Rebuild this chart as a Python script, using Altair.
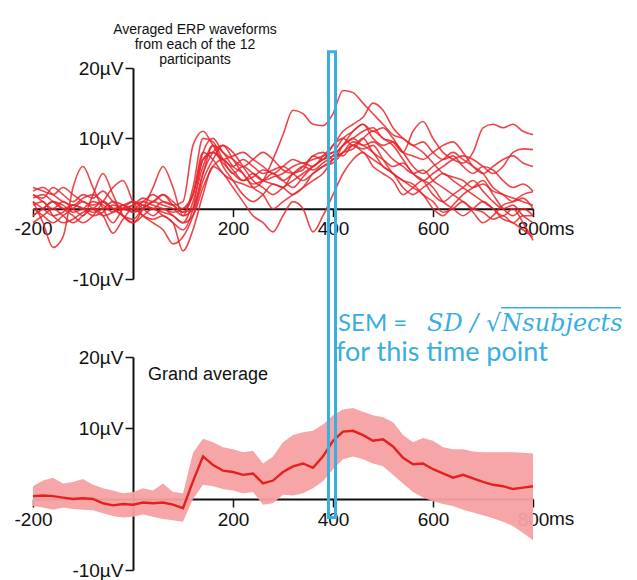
import altair as alt
import pandas as pd

# ---------------- data ----------------
times = list(range(-200, 801, 20))

s1 = [2.5, 3, 2, 1, 0.5, 1.5, 2, 1, 0, 0.5, 1, 0.5, 0, 1, 0.5, -0.5, 2, 8, 7, 5, 4, 3.5, 3, 4, 7, 10.5, 14, 13.5, 12, 11.8, 13.5, 16.8, 16.5, 15, 13.5, 12, 10.5, 10, 9, 9.5, 8, 7, 7.5, 6, 5, 6, 5.5, 4, 3, 3.5, 2.5]
s2 = [1, 0, -1, -0.5, 0.5, 0, -1, -0.5, 0.5, 0, -0.5, 0, 1, 0.5, 0, -1, 3, 10, 9.5, 7, 5, 6, 5, 4, 4.5, 5, 6, 6.5, 6, 7.5, 9, 11, 12, 13, 15, 14, 11.5, 10, 9, 8, 6.5, 5, 4.5, 4, 3, 3.5, 2.5, 2, 1.5, 1, 0.5]
s3 = [-1, 0, 1, 0.5, -0.5, 0, 1, 0.5, -0.5, 0, 0.5, 1, 0.5, 0, -0.5, 0, 2, 7, 8, 6.5, 5, 4, 4.5, 5.5, 5, 4, 5, 6, 5.5, 6.5, 7.5, 9, 10, 11, 11.5, 10, 9.5, 8, 11, 12.4, 10, 8, 7, 6.5, 8, 11.5, 12, 11.5, 12, 11, 10.5]
s4 = [1, -2, -5.5, -4, 3, 6, 3, 0, -2, 0, 1, 0, -1, 0, -1, -2, 1, 6, 9, 6, 4, 2, 1, 2, 3.5, 3, 5, 5.5, 7.5, 7, 9, 10, 9, 10, 8, 7, 6, 6.5, 5, 4, 5, 6, 7, 7.5, 7, 6, 5, 6, 8, 8.5, 8.4]
s5 = [2, 1, 0, 1, 0, -1, 2, 5, 2, -1, -2, 0, 3, 6, 3, -1, 0, 5, 9, 8, 6, 5, 3, 2, 0, 1, 2, 3, 4, 5, 7, 8, 9, 8.5, 9, 7, 5, 4, 3, 2, 0, -1, 0.5, 2, 3, 4, 2, 0, -1, 0, -1]
s6 = [-1, 0, 1, 0, -1, -2, -1, 1, 3, 4, 1, -1, -2, -3, -5, -4, -1, 4, 7, 9, 8, 6, 4, 3, 2, 3, 4, 5, 6, 7, 8, 7.5, 9, 8, 7, 6, 5, 3, 2, 3, 4, 5, 4, 3, 2, 1, 0, -1, 0, -2, -4.5]
s7 = [3, 2.5, 2, 3, 2, 1, 0.5, 1, 0, -1, -2, -1, 0, -1, -2, -6, -3, 2, 6, 5, 3, 1, -1, -2, -3.3, -1, 1, 0, -3.3, -1, 2, 5, 7, 8, 6, 5, 4, 2, 3, 4, 3, 1, 0, -1, 0, 1, 0, -1.5, -2, -3, -4]
s8 = [0, -1, -2, -1, 0, 1, 0, -1, -0.5, 0.5, 0, 1, 2, 1, 0.5, 1, 9, 11, 9, 7, 7.5, 8, 7, 6, 5, 6, 7, 6.5, 7, 7.5, 8, 10, 11, 12, 10, 9, 9.5, 8, 6, 5, 6, 7, 8, 7, 6, 5, 3, 2, 1, 1.5, 0]
s9 = [-2, -1, 0, -1, -2, -1, 0, -1, -3.5, -1.5, 0, -1, -1.5, -1, -2, -3, 0, 7, 8, 7, 6, 7, 6, 5, 5.5, 6, 5, 4, 5, 6, 7, 8, 8.5, 10, 11, 10, 9, 7, 5, 4, 2, 1, 2, 3, 4, 2.5, 1, 0, 0.5, -1, -2]
s10 = [1.5, 2, 1, 0, 0.5, 0, -0.5, 0, 1, 0.5, -0.5, 0.5, 0, -0.5, -1, -2, -1, 3, 6, 7, 5.5, 4, 5, 4, 3.5, 3, 2, 3, 5, 6, 6.5, 8, 9.5, 9, 8, 6, 5, 4, 3.5, 2, 1, -0.5, 0, 1, -0.5, -2, -1, 0.5, 1, 2, 2.4]
s11 = [0.5, 1, -1, -2, -1.5, -0.5, 0, 1, 0, -1, -1.5, 0, 1, 2, 1, 0, 2, 8, 10, 8, 7, 6, 7, 8, 7, 5.5, 5, 6, 7.5, 8, 7, 9, 11, 12, 11, 11.5, 10, 8, 7.5, 7, 8, 9, 9.5, 8, 6, 5, 6, 7, 7.5, 6.5, 6]
s12 = [2, 1.5, 3, 2, 1, 2, 1.5, 2.5, 1, 0, 0.5, 1.5, 1, 2, 0.5, -0.5, 0, 5, 8, 9, 7, 5, 3.5, 4, 5, 4, 3, 4.5, 6, 7, 7.5, 9, 10, 9, 9.5, 8.5, 7, 6, 5, 5.5, 4, 3, 2, 1, 0, -0.5, -1.5, -1, -2, -1, -1]

ga_mean = [0.4, 0.5, 0.4, 0.2, 0.0, 0.1, 0.0, -0.6, -0.9, -0.7, -0.8, -0.5, -0.6, -0.5, -0.8, -1.3, 2.5, 6.0, 4.8, 4.0, 3.8, 3.4, 3.6, 2.2, 2.6, 3.8, 4.6, 5.0, 4.4, 6.0, 8.2, 9.5, 9.6, 9.0, 8.2, 8.4, 7.4, 5.8, 4.9, 5.0, 4.2, 3.6, 3.0, 3.4, 2.9, 2.4, 2.0, 1.8, 1.4, 1.6, 1.8]
ga_lo = [-1.0, -1.2, -1.5, -1.2, -1.4, -1.5, -1.6, -2.0, -2.4, -2.6, -2.5, -2.2, -2.5, -2.8, -3.0, -3.2, 0.0, 2.0, 1.8, 1.4, 1.2, 0.8, 1.0, -0.8, -0.6, 0.6, 0.5, 0.8, 1.5, 2.5, 4.2, 5.6, 6.0, 5.6, 5.0, 4.6, 3.4, 2.2, 1.0, 0.2, -0.3, -0.7, -1.0, -1.5, -1.9, -2.3, -2.7, -3.2, -3.8, -4.8, -5.8]
ga_hi = [1.8, 2.6, 3.0, 2.2, 2.4, 2.8, 2.0, 1.5, 1.2, 0.8, 1.0, 1.5, 1.2, 2.2, 1.0, 0.8, 6.5, 8.5, 8.0, 7.3, 7.0, 6.6, 6.8, 5.0, 6.0, 8.0, 9.0, 9.4, 9.6, 10.5, 11.8, 12.6, 12.8, 12.3, 11.8, 11.5, 10.8, 9.0, 8.0, 8.6, 8.2, 7.3, 7.0, 7.0, 6.7, 6.6, 6.6, 6.6, 6.6, 6.5, 6.4]

x_ticks = [-200, 200, 400, 600, 800]
y_ticks = [-10, 10, 20]
sem_window = [391, 405]   # time window (ms) highlighted around 400 ms

title_top = "Averaged ERP waveforms\nfrom each of the 12\nparticipants"
title_bottom = "Grand average"
sem_line1a = "SEM ="
sem_line1b = "SD / \u221aNsubjects"
sem_line2 = "for this time point"

# ---------------- build tables ----------------
subjects = [s1, s2, s3, s4, s5, s6, s7, s8, s9, s10, s11, s12]
rows = []
for k, s in enumerate(subjects):
    for t, v in zip(times, s):
        rows.append({"subject": f"S{k + 1}", "t": t, "uv": v})
top_df = pd.DataFrame(rows)
ga_df = pd.DataFrame({"t": times, "mean": ga_mean, "lo": ga_lo, "hi": ga_hi})

# ---------------- styling ----------------
W = 500
H_TOP, H_BOT = 211, 213
FONT = "Liberation Sans"
RED = "#e8262b"
BLUE = "#38aee2"
INK = "#111111"

xscale = alt.Scale(domain=[-200, 800], nice=False, zero=False)
yscale = alt.Scale(domain=[-10, 20], nice=False, zero=False)


def x_axis(h):
    return alt.Axis(values=x_ticks, offset=-h / 3.0, title=None, grid=False,
                    labelFont=FONT, labelFontSize=19, labelColor=INK,
                    labelExpr="'' + datum.value", labelPadding=3,
                    tickSize=8, tickWidth=1.5, tickColor=INK,
                    domainColor=INK, domainWidth=2, labelFlush=False,
                    labelOverlap=False)


y_axis = alt.Axis(values=y_ticks, offset=-100, title=None, grid=False,
                  labelFont=FONT, labelFontSize=19, labelColor=INK,
                  labelExpr="datum.value + '\u00b5V'", labelPadding=2,
                  tickSize=8, tickWidth=1.5, tickColor=INK,
                  domainColor=INK, domainWidth=2)


def ms_label():
    return alt.Chart(pd.DataFrame({"u": ["ms"]})).mark_text(
        align="left", baseline="top", font=FONT, fontSize=19, color=INK,
        dx=16, dy=11
    ).encode(x=alt.datum(800, scale=xscale), y=alt.datum(0, scale=yscale), text="u:N")


# ---------------- top panel ----------------
lines = alt.Chart(top_df).mark_line(
    color=RED, strokeWidth=1.6, opacity=0.85, interpolate="monotone"
).encode(
    x=alt.X("t:Q", scale=xscale, axis=x_axis(H_TOP)),
    y=alt.Y("uv:Q", scale=yscale, axis=y_axis),
    detail="subject:N",
)

top_title = alt.Chart(pd.DataFrame({"u": [title_top]})).mark_text(
    align="center", baseline="alphabetic", font=FONT, fontSize=14,
    lineHeight=15, lineBreak="\n", color=INK
).encode(x=alt.datum(124), y=alt.datum(24.8), text="u:N")

top = alt.layer(lines, top_title, ms_label()).properties(width=W, height=H_TOP)

# ---------------- bottom panel ----------------
band = alt.Chart(ga_df).mark_area(color="#f6a1a1", opacity=0.95).encode(
    x=alt.X("t:Q", scale=xscale, axis=x_axis(H_BOT)),
    y=alt.Y("lo:Q", scale=yscale, axis=y_axis),
    y2="hi:Q",
)
mean_line = alt.Chart(ga_df).mark_line(color="#e3211f", strokeWidth=2.4).encode(
    x=alt.X("t:Q", scale=xscale),
    y=alt.Y("mean:Q", scale=yscale),
)
bottom_title = alt.Chart(pd.DataFrame({"u": [title_bottom]})).mark_text(
    align="left", baseline="alphabetic", font=FONT, fontSize=18, color=INK
).encode(x=alt.datum(30), y=alt.datum(16.8), text="u:N")

sem_a = alt.Chart(pd.DataFrame({"u": [sem_line1a]})).mark_text(
    align="left", baseline="alphabetic", font="Lato", fontSize=24, color=BLUE
).encode(x=alt.datum(410), y=alt.datum(23.6), text="u:N")
sem_b = alt.Chart(pd.DataFrame({"u": [sem_line1b]})).mark_text(
    align="left", baseline="alphabetic", font="DejaVu Serif", fontStyle="italic",
    fontSize=24, color=BLUE
).encode(x=alt.datum(588), y=alt.datum(23.6), text="u:N")
sem_bar = alt.Chart(pd.DataFrame({"a": [736], "b": [976]})).mark_rule(
    color=BLUE, strokeWidth=1.5
).encode(x="a:Q", x2="b:Q", y=alt.datum(26.95))
sem_c = alt.Chart(pd.DataFrame({"u": [sem_line2]})).mark_text(
    align="left", baseline="alphabetic", font="Lato", fontSize=27, color=BLUE
).encode(x=alt.datum(406), y=alt.datum(19.5), text="u:N")

window = alt.Chart(pd.DataFrame({"a": [sem_window[0]], "b": [sem_window[1]]})).mark_rect(
    filled=False, stroke=BLUE, strokeWidth=3
).encode(x="a:Q", x2="b:Q", y=alt.datum(63.0), y2=alt.datum(-2.6))

bottom = alt.layer(band, mean_line, bottom_title, sem_a, sem_b, sem_bar, sem_c,
                   ms_label(), window).properties(width=W, height=H_BOT)

chart = alt.vconcat(top, bottom, spacing=78, bounds="flush").configure_view(
    stroke=None
).properties(padding={"left": 5, "top": 15, "right": 0, "bottom": 0})

chart.save("out.html", embed_options={"renderer": "svg", "actions": False})
